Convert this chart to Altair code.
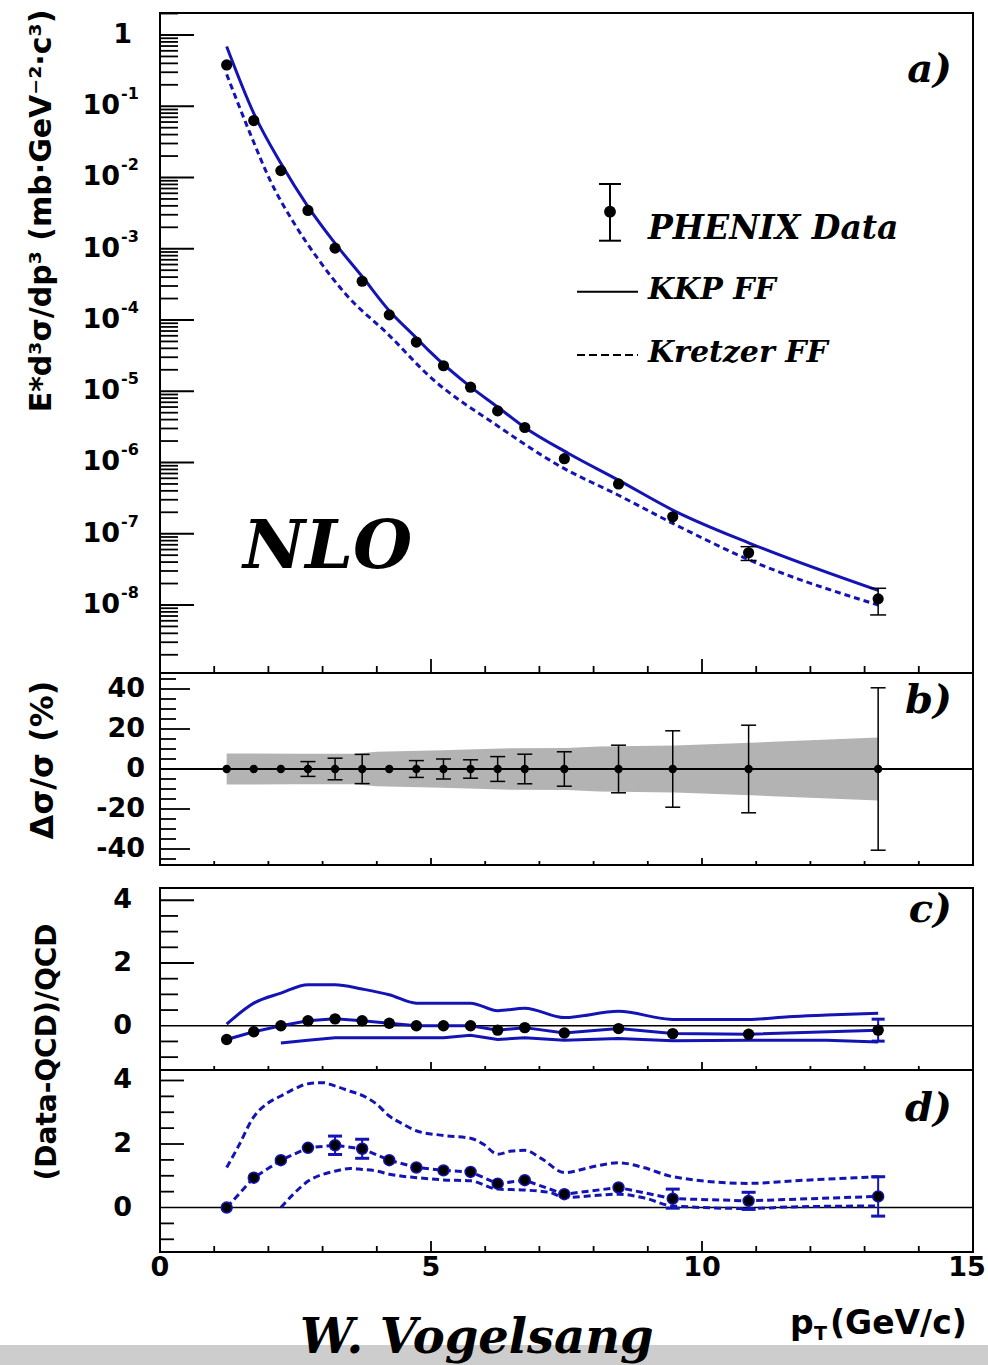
import altair as alt
import pandas as pd

# ---------------- data ----------------
pt = [1.23, 1.73, 2.23, 2.73, 3.23, 3.73, 4.23, 4.73, 5.23, 5.73, 6.23, 6.73, 7.46, 8.46, 9.46, 10.86, 13.25]
xsec = [0.38, 0.063, 0.0125, 3.45e-3, 1.02e-3, 3.5e-4, 1.18e-4, 4.9e-5, 2.28e-5, 1.14e-5,
        5.3e-6, 3.1e-6, 1.13e-6, 5.0e-7, 1.73e-7, 5.4e-8, 1.22e-8]
err_pct = [0, 0, 0, 3.7, 5.4, 7.3, 0, 4.2, 5.0, 4.6, 6.2, 7.4, 8.6, 11.9, 19.1, 21.9, 40.6]

kkp_pt = [1.23, 1.73, 2.23, 2.73, 3.23, 3.73, 4.23, 4.73, 4.98, 5.73, 6.23, 6.73, 7.53, 8.45, 9.46, 10.87, 13.25]
kkp = [0.69, 0.0796, 0.0158, 3.9e-3, 1.19e-3, 4.07e-4, 1.35e-4, 5.6e-5, 3.59e-5, 1.15e-5, 6.0e-6,
       3.1e-6, 1.35e-6, 5.7e-7, 2.15e-7, 7.4e-8, 1.6e-8]

kre_pt = [1.23, 1.66, 2.03, 2.46, 2.89, 3.44, 4.2, 4.98, 6.25, 7.40, 8.45, 9.46, 10.87, 13.25]
kre = [0.28, 0.042, 9.2e-3, 2.37e-3, 7.66e-4, 2.24e-4, 6.4e-5, 1.6e-5, 3.18e-6, 8.7e-7, 3.5e-7,
       1.4e-7, 4.3e-8, 1.0e-8]

band_pt = [1.23, 2.5, 3.6, 4.0, 5.2, 6.5, 7.5, 8.1, 9.5, 11.3, 13.25]
band_half = [7.8, 7.6, 7.6, 8.6, 9.4, 10.4, 10.5, 11.3, 11.7, 13.6, 15.8]

c_val = [-0.44, -0.19, 0.0, 0.16, 0.22, 0.16, 0.08, 0.0, 0.0, 0.0, -0.14, -0.06, -0.23, -0.09, -0.25, -0.27, -0.14]
c_err = [0.02, 0.02, 0.02, 0.04, 0.06, 0.09, 0.02, 0.04, 0.05, 0.05, 0.06, 0.07, 0.08, 0.11, 0.15, 0.17, 0.35]
c_up_pt = [1.23, 1.73, 2.23, 2.73, 3.23, 3.73, 4.23, 4.73, 5.23, 5.73, 6.23, 6.73, 7.46, 8.46, 9.46, 10.86, 11.6, 12.3, 13.25]
c_up = [0.05, 0.72, 1.04, 1.31, 1.31, 1.17, 0.99, 0.72, 0.72, 0.72, 0.48, 0.56, 0.26, 0.46, 0.2, 0.2, 0.29, 0.34, 0.4]
c_lo_pt = [2.23, 2.73, 3.23, 3.73, 4.23, 4.73, 5.23, 5.73, 6.23, 6.73, 7.46, 8.46, 9.46, 10.86, 12.3, 13.25]
c_lo = [-0.55, -0.46, -0.38, -0.38, -0.38, -0.38, -0.38, -0.3, -0.44, -0.38, -0.46, -0.41, -0.48, -0.46, -0.46, -0.52]

d_val = [0.0, 0.94, 1.49, 1.88, 1.96, 1.85, 1.49, 1.26, 1.17, 1.12, 0.75, 0.86, 0.42, 0.63, 0.28, 0.21, 0.35]
d_err = [0.02, 0.05, 0.1, 0.15, 0.29, 0.3, 0.12, 0.1, 0.1, 0.1, 0.1, 0.12, 0.1, 0.15, 0.3, 0.27, 0.62]
d_up_pt = [1.23, 1.45, 1.72, 2.0, 2.23, 2.52, 2.74, 3.01, 3.24, 3.51, 3.73, 4.0, 4.23, 4.49, 4.74, 5.23, 5.73,
           5.97, 6.23, 6.49, 6.73, 7.04, 7.46, 8.0, 8.46, 8.92, 9.46, 10.86, 11.68, 13.25]
d_up = [1.26, 1.94, 2.83, 3.3, 3.51, 3.77, 3.9, 3.93, 3.82, 3.66, 3.53, 3.25, 2.88, 2.62, 2.41, 2.27, 2.18,
        1.99, 1.68, 1.78, 1.8, 1.54, 1.1, 1.29, 1.41, 1.26, 0.97, 0.76, 0.84, 0.97]
d_lo_pt = [2.23, 2.46, 2.74, 3.01, 3.24, 3.51, 3.73, 4.0, 4.23, 4.74, 5.23, 5.73, 6.23, 6.73, 7.2, 7.46,
           8.46, 8.92, 9.46, 10.86, 11.68, 13.25]
d_lo = [0.0, 0.42, 0.84, 1.05, 1.15, 1.23, 1.2, 1.15, 1.05, 0.94, 0.87, 0.84, 0.58, 0.55, 0.47, 0.32,
        0.42, 0.31, 0.05, -0.03, 0.02, 0.05]

# axis tick values / labels
x_minor = [1, 2, 3, 4, 6, 7, 8, 9, 11, 12, 13, 14]
x_major = [5, 10]
x_lab_vals = [0, 5, 10]
x_lab_txt = ["0", "5", "10"]
a_dec_vals = [1e-1, 1e-2, 1e-3, 1e-4, 1e-5, 1e-6, 1e-7, 1e-8]
a_dec_exp = ["-1", "-2", "-3", "-4", "-5", "-6", "-7", "-8"]
b_major = [-40, -20, 0, 20, 40]
b_lab = ["-40", "-20", "0", "20", "40"]
b_minor = [-45, -35, -30, -25, -15, -10, -5, 5, 10, 15, 25, 30, 35, 45]
cd_major = [0, 2, 4]
cd_lab = ["0", "2", "4"]
cd_minor = [-1.0, -0.5, 0.5, 1.0, 1.5, 2.5, 3.0, 3.5]

# ---------------- styling ----------------
W = 813
HA, HB, HD = 660, 192, 182
GAP = 23
HC = 182 + GAP          # panel c cell includes the white gap above its frame
BLUE = "#1414b4"
SANS = "DejaVu Sans"
SERIF = "DejaVu Serif"
TICKW = 1.8

xs = alt.Scale(domain=[0, 15], nice=False, zero=False)


def X(f):
    return alt.X(f"{f}:Q", scale=xs, axis=None)


def Y(f, sc):
    return alt.Y(f"{f}:Q", scale=sc, axis=None)


def one():
    return alt.Chart(pd.DataFrame({"a": [0]}))


def ptext(text, x, y, size, font=SERIF, italic=True, align="left", baseline="alphabetic", angle=None):
    kw = dict(align=align, baseline=baseline, fontSize=size, font=font, fontWeight="bold", color="black")
    if italic:
        kw["fontStyle"] = "italic"
    if angle is not None:
        kw["angle"] = angle
    return alt.Chart(pd.DataFrame({"t": [text]})).mark_text(**kw).encode(
        x=alt.value(x), y=alt.value(y), text="t:N")


def frame(top, bottom):
    return one().mark_rect(fillOpacity=0, stroke="black", strokeWidth=2).encode(
        x=alt.value(0), x2=alt.value(W), y=alt.value(top), y2=alt.value(bottom))


def yticks(vals, length, sc):
    return alt.Chart(pd.DataFrame({"v": vals})).mark_rule(color="black", strokeWidth=TICKW).encode(
        y=Y("v", sc), x=alt.value(0), x2=alt.value(length))


def xticks(vals, length, H):
    return alt.Chart(pd.DataFrame({"v": vals})).mark_rule(color="black", strokeWidth=TICKW).encode(
        x=X("v"), y=alt.value(H), y2=alt.value(H - length))


def ylabels(vals, texts, sc, xpos, size=27):
    return alt.Chart(pd.DataFrame({"v": vals, "t": texts})).mark_text(
        align="right", baseline="middle", font=SANS, fontWeight="bold", fontSize=size, color="black"
    ).encode(y=Y("v", sc), x=alt.value(xpos), text="t:N")


def zero_line(sc, w=2):
    return alt.Chart(pd.DataFrame({"v": [0]})).mark_rule(color="black", strokeWidth=w).encode(
        y=Y("v", sc), x=alt.value(0), x2=alt.value(W))


def caps(df, field, sc, cond, size, thick, color):
    return alt.Chart(df).transform_filter(cond).mark_tick(
        orient="horizontal", size=size, thickness=thick, color=color, opacity=1).encode(
        x=X("pt"), y=Y(field, sc))


def curve(xv, yv, sc, dash=None, interp="monotone"):
    kw = dict(color=BLUE, strokeWidth=3, interpolate=interp)
    if dash:
        kw["strokeDash"] = dash
    return alt.Chart(pd.DataFrame({"pt": xv, "y": yv})).mark_line(**kw).encode(x=X("pt"), y=Y("y", sc))


# ---------------- panel a ----------------
ya = alt.Scale(type="log", domain=[1.11e-9, 2.036], nice=False)
dfa = pd.DataFrame({
    "pt": pt, "y": xsec, "pct": err_pct,
    "lo": [v * (1 - e / 100) for v, e in zip(xsec, err_pct)],
    "hi": [v * (1 + e / 100) for v, e in zip(xsec, err_pct)],
})
a_major = [10.0 ** (-k) for k in range(0, 9)]
a_minor = [m * 10.0 ** k for k in range(-9, 1) for m in range(2, 10) if 1.11e-9 < m * 10.0 ** k < 2.036]

pa_layers = [
    one().mark_rule(color="white", strokeWidth=1).encode(x=alt.value(0), x2=alt.value(W), y=alt.value(-12.5)),
    yticks(a_major, 34, ya),
    yticks(a_minor, 18, ya),
    xticks(x_minor, 7, HA),
    xticks(x_major, 14, HA),
    curve(kre_pt, kre, ya, dash=[6, 4]),
    curve(kkp_pt, kkp, ya),
    alt.Chart(dfa).mark_rule(color="black", strokeWidth=1.5).encode(x=X("pt"), y=Y("lo", ya), y2="hi:Q"),
    caps(dfa, "lo", ya, "datum.pct >= 20", 16, 1.5, "black"),
    caps(dfa, "hi", ya, "datum.pct >= 20", 16, 1.5, "black"),
    alt.Chart(dfa).mark_circle(size=125, color="black", opacity=1).encode(x=X("pt"), y=Y("y", ya)),
    alt.Chart(pd.DataFrame({"v": [1.0], "t": ["1"]})).mark_text(
        align="right", baseline="middle", font=SANS, fontWeight="bold", fontSize=27, color="black"
    ).encode(y=Y("v", ya), x=alt.value(-28), text="t:N"),
    alt.Chart(pd.DataFrame({"v": a_dec_vals, "t": ["10"] * len(a_dec_vals)})).mark_text(
        align="right", baseline="middle", font=SANS, fontWeight="bold", fontSize=27, color="black"
    ).encode(y=Y("v", ya), x=alt.value(-40), text="t:N"),
    alt.Chart(pd.DataFrame({"v": a_dec_vals, "t": a_dec_exp})).mark_text(
        align="left", baseline="middle", font=SANS, fontWeight="bold", fontSize=16, color="black", dy=-12
    ).encode(y=Y("v", ya), x=alt.value(-39), text="t:N"),
    ptext("E*d³σ/dp³ (mb·GeV⁻²·c³)", -118, 198, 30, font=SANS, italic=False, align="center",
          baseline="middle", angle=270),
    # legend
    one().mark_rule(color="black", strokeWidth=2).encode(x=alt.value(450), y=alt.value(171), y2=alt.value(227.7)),
    one().mark_rule(color="black", strokeWidth=2).encode(x=alt.value(439), x2=alt.value(461), y=alt.value(171)),
    one().mark_rule(color="black", strokeWidth=2).encode(x=alt.value(439), x2=alt.value(461), y=alt.value(227.7)),
    one().mark_circle(size=140, color="black", opacity=1).encode(x=alt.value(450), y=alt.value(198.7)),
    one().mark_rule(color="black", strokeWidth=2).encode(x=alt.value(417), x2=alt.value(478), y=alt.value(278.7)),
    one().mark_rule(color="black", strokeWidth=2, strokeDash=[8, 4]).encode(
        x=alt.value(417), x2=alt.value(478), y=alt.value(342)),
    ptext("PHENIX Data", 488, 226, 33),
    ptext("KKP FF", 488, 286, 30),
    ptext("Kretzer FF", 488, 349, 30),
    ptext("a)", 792, 69, 40, align="right"),
    ptext("NLO", 83, 555, 68),
    frame(0, HA),
]
pa = alt.layer(*pa_layers).properties(width=W, height=HA)

# ---------------- panel b ----------------
yb = alt.Scale(domain=[-48, 48], nice=False, zero=False)
dfb = pd.DataFrame({"pt": pt, "e": err_pct, "lo": [-e for e in err_pct], "hi": err_pct, "z": [0] * len(pt)})
pb_layers = [
    alt.Chart(pd.DataFrame({"pt": band_pt, "lo": [-h for h in band_half], "hi": band_half})).mark_area(
        color="#b3b3b3", opacity=1).encode(x=X("pt"), y=Y("lo", yb), y2="hi:Q"),
    yticks(b_major, 30, yb),
    yticks(b_minor, 16, yb),
    xticks(x_minor, 4, HB),
    xticks(x_major, 7, HB),
    zero_line(yb, 2),
    alt.Chart(dfb).mark_rule(color="black", strokeWidth=1.5).encode(x=X("pt"), y=Y("lo", yb), y2="hi:Q"),
    caps(dfb, "lo", yb, "datum.e > 0", 15, 1.5, "black"),
    caps(dfb, "hi", yb, "datum.e > 0", 15, 1.5, "black"),
    alt.Chart(dfb).mark_circle(size=70, color="black", opacity=1).encode(x=X("pt"), y=Y("z", yb)),
    ylabels(b_major, b_lab, yb, -15),
    ptext("Δσ/σ (%)", -117, 87, 32, font=SANS, italic=False, align="center", baseline="middle", angle=270),
    ptext("b)", 792, 40, 40, align="right"),
    frame(0, HB),
]
pb = alt.layer(*pb_layers).properties(width=W, height=HB)

# ---------------- panel c ----------------
yc = alt.Scale(domain=[-1.41, 4.39], nice=False, zero=False, range=[HC, GAP])
dfc = pd.DataFrame({"pt": pt, "y": c_val, "e": c_err,
                    "lo": [v - e for v, e in zip(c_val, c_err)], "hi": [v + e for v, e in zip(c_val, c_err)]})
pc_layers = [
    yticks([2, 4], 34, yc),
    yticks(cd_minor, 18, yc),
    xticks(x_minor, 4, HC),
    xticks(x_major, 8, HC),
    zero_line(yc, 1.6),
    curve(c_up_pt, c_up, yc),
    curve(c_lo_pt, c_lo, yc, interp="linear"),
    curve(pt, c_val, yc, interp="linear"),
    alt.Chart(dfc).mark_rule(color=BLUE, strokeWidth=2).encode(x=X("pt"), y=Y("lo", yc), y2="hi:Q"),
    caps(dfc, "lo", yc, "datum.e > 0.2", 13, 3, BLUE),
    caps(dfc, "hi", yc, "datum.e > 0.2", 13, 3, BLUE),
    alt.Chart(dfc).mark_circle(size=130, color="black", opacity=1).encode(x=X("pt"), y=Y("y", yc)),
    ylabels(cd_major, cd_lab, yc, -28),
    ptext("(Data-QCD)/QCD", -112, 164 + GAP, 28, font=SANS, italic=False, align="center", baseline="middle",
          angle=270),
    ptext("c)", 792, 34 + GAP, 40, align="right"),
    frame(GAP, HC),
]
pc = alt.layer(*pc_layers).properties(width=W, height=HC)

# ---------------- panel d ----------------
yd = alt.Scale(domain=[-1.40, 4.33], nice=False, zero=False)
dfd = pd.DataFrame({"pt": pt, "y": d_val, "e": d_err,
                    "lo": [v - e for v, e in zip(d_val, d_err)], "hi": [v + e for v, e in zip(d_val, d_err)]})
DASH = [7, 4]
pd_layers = [
    one().mark_rect(color="#cdcdcd", opacity=1).encode(
        x=alt.value(-160), x2=alt.value(828), y=alt.value(275), y2=alt.value(295)),
    yticks([2, 4], 24, yd),
    yticks(cd_minor, 14, yd),
    xticks(x_minor, 6, HD),
    xticks(x_major, 11, HD),
    zero_line(yd, 1.6),
    curve(d_up_pt, d_up, yd, dash=DASH),
    curve(d_lo_pt, d_lo, yd, dash=DASH),
    curve(pt, d_val, yd, dash=DASH, interp="linear"),
    alt.Chart(dfd).mark_rule(color=BLUE, strokeWidth=2).encode(x=X("pt"), y=Y("lo", yd), y2="hi:Q"),
    caps(dfd, "lo", yd, "datum.e > 0.2", 14, 3, BLUE),
    caps(dfd, "hi", yd, "datum.e > 0.2", 14, 3, BLUE),
    alt.Chart(dfd).mark_circle(size=120, fill="black", stroke=BLUE, strokeWidth=1.5, opacity=1).encode(
        x=X("pt"), y=Y("y", yd)),
    ylabels(cd_major, cd_lab, yd, -28),
    alt.Chart(pd.DataFrame({"v": x_lab_vals, "t": x_lab_txt})).mark_text(
        align="center", baseline="middle", font=SANS, fontWeight="bold", fontSize=27, color="black"
    ).encode(x=X("v"), y=alt.value(198), text="t:N"),
    ptext("15", 807, 198, 27, font=SANS, italic=False, align="center", baseline="middle"),
    ptext("p", 630, 264, 33, font=SANS, italic=False),
    ptext("T", 654, 270, 19, font=SANS, italic=False),
    ptext("(GeV/c)", 670, 264, 33, font=SANS, italic=False),
    ptext("d)", 792, 51, 40, align="right"),
    ptext("W. Vogelsang", 140, 283, 48),
    frame(0, HD),
]
pdd = alt.layer(*pd_layers).properties(width=W, height=HD)

chart = alt.vconcat(pa, pb, pc, pdd, spacing=0, bounds="flush").resolve_scale(
    x="independent", y="independent"
).configure_view(strokeWidth=0).properties(
    padding={"left": 0, "top": 0, "right": 0, "bottom": 0}, background="white")

chart.save("out.html", embed_options={"renderer": "svg", "actions": False})
